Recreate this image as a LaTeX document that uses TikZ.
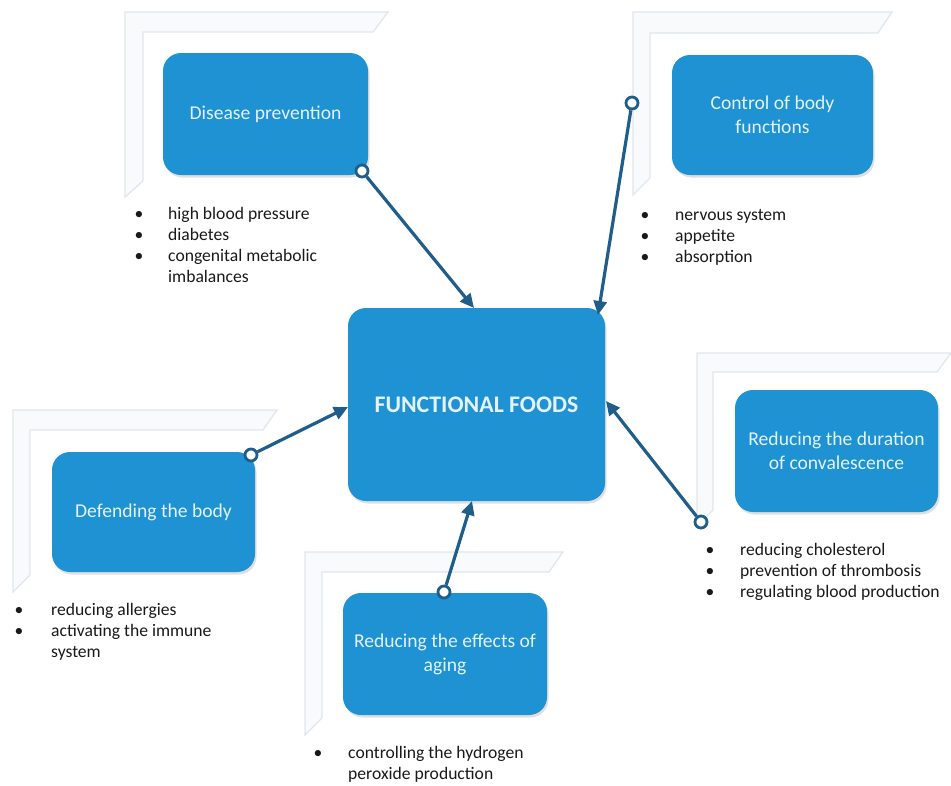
\documentclass[tikz,border=0pt]{standalone}
\usepackage{fontspec}
\setmainfont{Carlito}
\usetikzlibrary{arrows.meta,shadows}
\definecolor{boxblue}{RGB}{30,146,210}
\definecolor{boxtext}{RGB}{228,242,252}
\definecolor{linkcol}{RGB}{31,94,138}
\definecolor{txtcol}{RGB}{25,25,25}
\definecolor{framefill}{RGB}{248,250,252}
\definecolor{frameline}{RGB}{224,231,238}
\tikzset{
  framebar/.style={fill=framefill, draw=frameline, line width=1.3pt, line join=miter},
  bluebox/.style={rectangle, rounded corners=18pt, fill=boxblue, text=boxtext,
    font=\fontsize{19.6}{24}\selectfont, align=center, inner sep=0pt,
    drop shadow={shadow xshift=1.5pt, shadow yshift=-2.5pt, opacity=.25}},
  ring/.style={circle, draw=linkcol, line width=2.8pt, fill=white, minimum size=12pt, inner sep=0pt},
  link/.style={draw=linkcol, line width=3.2pt, -{Triangle[length=14pt,width=13pt]}},
  itemtext/.style={anchor=base west, inner sep=0pt, font=\fontsize{17.6}{21}\selectfont, text=txtcol},
  dot/.style={anchor=base, inner sep=0pt, font=\fontsize{17.6}{21}\selectfont, text=txtcol}
}
\begin{document}
\begin{tikzpicture}[x=1pt,y=-1pt]
\useasboundingbox (0,0) rectangle (951,785);
% frames
\draw[framebar] (125,12) -- (388,12) -- (373,32) -- (143,32) -- (143,181) -- (125,197) -- cycle;
\draw[framebar] (633,12) -- (892,12) -- (878,33) -- (650,33) -- (650,178) -- (633,195) -- cycle;
\draw[framebar] (13,410) -- (277,410) -- (263,430) -- (30,430) -- (30,575) -- (13,592) -- cycle;
\draw[framebar] (305,552) -- (563,552) -- (549,572) -- (322,572) -- (322,718) -- (305,735) -- cycle;
\draw[framebar] (697,353) -- (951,353) -- (937,372) -- (713,372) -- (713,510) -- (697,526) -- cycle;
% boxes
\node[bluebox, minimum width=257pt, minimum height=193pt, font=\fontsize{23.8}{28}\selectfont\bfseries] (ff) at (476.5,404.5) {FUNCTIONAL FOODS};
\node[bluebox, minimum width=205pt, minimum height=122pt] (dp) at (265.5,114) {Disease prevention};
\node[bluebox, minimum width=201pt, minimum height=120pt] (cb) at (772.5,115) {Control of body\\functions};
\node[bluebox, minimum width=203pt, minimum height=120pt] (db) at (153.5,512) {Defending the body};
\node[bluebox, minimum width=204pt, minimum height=122pt] (ra) at (445,654) {Reducing the effects of\\aging};
\node[bluebox, minimum width=203pt, minimum height=122pt] (rc) at (836.5,451) {Reducing the duration\\of convalescence};
% connectors
\coordinate (tdp) at (474,308);
\coordinate (tcb) at (598,315);
\coordinate (tdb) at (348,407);
\coordinate (tra) at (472,501);
\coordinate (trc) at (606,401);
\node[ring] (cdp) at (362,171) {};
\node[ring] (ccb) at (632,103) {};
\node[ring] (cdb) at (251,455) {};
\node[ring] (cra) at (444,592) {};
\node[ring] (crc) at (701,522) {};
\draw[link] (cdp) -- (tdp);
\draw[link] (ccb) -- (tcb);
\draw[link] (cdb) -- (tdb);
\draw[link] (cra) -- (tra);
\draw[link] (crc) -- (trc);
% lists: disease prevention
\node[dot] (dpb1) at (139,219) {•};
\node[dot] (dpb2) at (139,240) {•};
\node[dot] (dpb3) at (139,261) {•};
\node[itemtext] (dpl1) at (168,219) {high blood pressure};
\node[itemtext] (dpl2) at (168,240) {diabetes};
\node[itemtext] (dpl3) at (168,261) {congenital metabolic};
\node[itemtext] (dpl4) at (168,282) {imbalances};
% control of body functions
\node[dot] (cbb1) at (645,220) {•};
\node[dot] (cbb2) at (645,241) {•};
\node[dot] (cbb3) at (645,262) {•};
\node[itemtext] (cbl1) at (675,220) {nervous system};
\node[itemtext] (cbl2) at (675,241) {appetite};
\node[itemtext] (cbl3) at (675,262) {absorption};
% defending the body
\node[dot] (dbb1) at (19,615) {•};
\node[dot] (dbb2) at (19,636) {•};
\node[itemtext] (dbl1) at (51,615) {reducing allergies};
\node[itemtext] (dbl2) at (51,636) {activating the immune};
\node[itemtext] (dbl3) at (51,657) {system};
% reducing effects of aging
\node[dot] (rab1) at (318,758) {•};
\node[itemtext] (ral1) at (348,758) {controlling the hydrogen};
\node[itemtext] (ral2) at (348,779) {peroxide production};
% convalescence
\node[dot] (rcb1) at (710,555) {•};
\node[dot] (rcb2) at (710,576) {•};
\node[dot] (rcb3) at (710,597) {•};
\node[itemtext] (rcl1) at (740,555) {reducing cholesterol};
\node[itemtext] (rcl2) at (740,576) {prevention of thrombosis};
\node[itemtext] (rcl3) at (740,597) {regulating blood production};
\end{tikzpicture}
\end{document}
